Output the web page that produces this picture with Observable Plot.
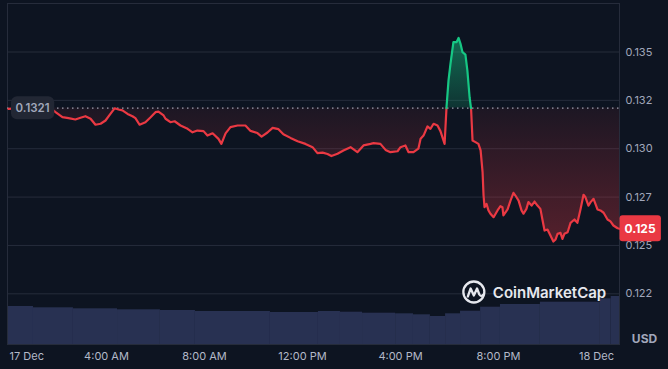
<!DOCTYPE html>
<html><head><meta charset="utf-8">
<script src="https://cdn.jsdelivr.net/npm/d3@7"></script>
<script src="https://cdn.jsdelivr.net/npm/@observablehq/plot@0.6"></script>
<style>
html,body{margin:0;padding:0;background:#0d1421;}
#chart{position:relative;width:668px;height:369px;background:#0d1421;overflow:hidden;}
#chart svg{position:absolute;left:0;top:0;}
</style></head><body><div id="chart"></div>
<script>
// hours since 17 Dec 00:00
const hours = [0.00,0.49,1.10,1.71,1.92,2.20,2.45,2.73,2.94,3.14,3.35,3.55,3.76,3.96,4.16,4.33,4.49,4.65,4.86,5.06,5.18,5.35,5.59,5.80,6.00,6.12,6.33,6.41,6.61,6.78,7.02,7.31,7.51,7.71,7.96,8.12,8.33,8.57,8.69,8.86,9.06,9.35,9.67,9.88,10.16,10.33,10.57,10.78,11.02,11.22,11.51,11.80,12.12,12.41,12.61,12.82,13.02,13.18,13.43,13.67,13.96,14.24,14.49,14.78,14.90,15.18,15.39,15.59,15.88,16.00,16.20,16.33,16.53,16.73,16.82,16.94,17.10,17.22,17.35,17.51,17.63,17.80,17.88,17.96,18.04,18.16,18.29,18.37,18.45,18.53,18.65,18.73,18.82,18.88,18.94,19.06,19.18,19.27,19.35,19.39,19.43,19.51,19.59,19.67,19.80,19.96,20.08,20.16,20.20,20.37,20.49,20.61,20.69,20.82,20.94,21.02,21.14,21.22,21.35,21.47,21.59,21.71,21.80,21.88,22.00,22.12,22.24,22.33,22.41,22.53,22.61,22.69,22.82,22.94,23.10,23.22,23.35,23.47,23.55,23.67,23.76,23.88,24.04,24.16,24.29,24.45,24.57,24.69,24.86,24.94];
const prices = [0.13206,0.13210,0.13210,0.13210,0.13189,0.13163,0.13158,0.13151,0.13160,0.13168,0.13155,0.13124,0.13129,0.13146,0.13180,0.13209,0.13203,0.13198,0.13180,0.13168,0.13158,0.13124,0.13137,0.13163,0.13189,0.13192,0.13172,0.13155,0.13137,0.13142,0.13120,0.13103,0.13085,0.13094,0.13091,0.13068,0.13080,0.13051,0.13025,0.13079,0.13112,0.13120,0.13120,0.13092,0.13081,0.13063,0.13084,0.13108,0.13101,0.13075,0.13056,0.13039,0.13025,0.13008,0.12977,0.12980,0.12973,0.12962,0.12974,0.12991,0.13008,0.12982,0.13017,0.13025,0.13029,0.13025,0.12994,0.12982,0.12987,0.13008,0.13017,0.12982,0.12982,0.13000,0.13051,0.13068,0.13115,0.13103,0.13129,0.13120,0.13091,0.13025,0.13218,0.13353,0.13439,0.13551,0.13551,0.13573,0.13542,0.13499,0.13487,0.13404,0.13266,0.13208,0.13042,0.13034,0.13025,0.12991,0.12879,0.12758,0.12698,0.12715,0.12681,0.12664,0.12646,0.12681,0.12703,0.12698,0.12655,0.12686,0.12732,0.12772,0.12758,0.12732,0.12681,0.12664,0.12689,0.12724,0.12706,0.12727,0.12706,0.12689,0.12629,0.12577,0.12582,0.12551,0.12520,0.12531,0.12560,0.12565,0.12534,0.12560,0.12568,0.12617,0.12634,0.12617,0.12689,0.12762,0.12749,0.12706,0.12724,0.12741,0.12686,0.12681,0.12669,0.12634,0.12624,0.12603,0.12589,0.12586];
const basePrice = 0.1321;
const baseLabel = "0.1321";
const lastLabel = "0.125";
const yTicks = [0.1225, 0.125, 0.1275, 0.13, 0.1325, 0.135];
const yLabels = ["0.122", "0.125", "0.127", "0.130", "0.132", "0.135"];
const xTicks = [0, 4, 8, 12, 16, 20, 24];
const xLabels = ["17 Dec", "4:00 AM", "8:00 AM", "12:00 PM", "4:00 PM", "8:00 PM", "18 Dec"];
// volume steps (hours) and relative 24h volume
const volStart = [-0.04,1.02,2.65,4.45,6.20,7.63,10.69,12.65,13.55,14.45,15.80,16.53,17.22,17.84,18.45,19.27,20.08,21.71,24.16,24.60];
const volEnd   = [1.02,2.65,4.45,6.20,7.63,10.69,12.65,13.55,14.45,15.80,16.53,17.22,17.84,18.45,19.27,20.08,21.71,24.16,24.60,24.94];
const volume   = [38,36.7,35.7,34.7,34,33,32,33,32.3,31.3,30.7,29.7,28,30.7,33.3,37.3,40,42.3,45.7,48];
const unitLabel = "USD";
const brand = "CoinMarketCap";

const RED = "#ea3943", GREEN = "#16c784", GRID = "#262c3b", TXT = "#a1a7bb";
const W = 668, H = 369, mL = 7, mR = 49, mT = 3, mB = 25;

// split line into segments above / below the base price
const pts = [];
let seg = 0;
for (let i = 0; i < hours.length; i++) {
  const up = prices[i] > basePrice;
  if (i > 0) {
    const pu = prices[i-1] > basePrice;
    if (pu !== up) {
      const f = (basePrice - prices[i-1]) / (prices[i] - prices[i-1]);
      const tc = hours[i-1] + f * (hours[i] - hours[i-1]);
      pts.push({t: tc, p: basePrice, seg, up: pu});
      seg++;
      pts.push({t: tc, p: basePrice, seg, up});
    }
  }
  pts.push({t: hours[i], p: prices[i], seg, up});
}
const upPts = pts.filter(d => d.up), dnPts = pts.filter(d => !d.up);

const common = {
  width: W, height: H, marginLeft: mL, marginRight: mR, marginTop: mT, marginBottom: mB,
  x: {domain: [0, 24], range: [8, 596], axis: null},
  style: {background: "transparent", fontFamily: "Inter, 'Noto Sans', sans-serif"}
};

const volPlot = Plot.plot({
  ...common,
  y: {domain: [0, 100], range: [H - mB, H - mB - 100], axis: null},
  marks: [
    Plot.rectY(volume.map((v, i) => ({x1: volStart[i], x2: volEnd[i], v})),
      {x1: "x1", x2: "x2", y: "v", fill: "#283152"})
  ]
});

const pricePlot = Plot.plot({
  ...common,
  y: {domain: [0.1225, 0.135], range: [293.3, 51.5], axis: null},
  marks: [
    Plot.gridY(yTicks, {stroke: GRID, strokeOpacity: 1}),
    Plot.frame({stroke: GRID}),
    Plot.areaY(dnPts, {x: "t", y1: d => basePrice, y2: "p", z: "seg", fill: "url(#gRed)"}),
    Plot.areaY(upPts, {x: "t", y1: d => basePrice, y2: "p", z: "seg", fill: "url(#gGreen)"}),
    Plot.ruleY([basePrice], {stroke: "#b4b9c7", strokeOpacity: 0.85, strokeWidth: 1.3, strokeDasharray: "1.5,3.5"}),
    Plot.line(dnPts, {x: "t", y: "p", z: "seg", stroke: RED, strokeWidth: 2.2}),
    Plot.line(upPts, {x: "t", y: "p", z: "seg", stroke: GREEN, strokeWidth: 2.2}),
    Plot.text(yTicks, {y: d => d, text: (d, i) => yLabels[i], frameAnchor: "right", dx: 6, textAnchor: "start", fill: TXT, fontSize: 11}),
    Plot.text(xTicks, {filter: (d, i) => i === 0, x: d => d, text: (d, i) => xLabels[i], frameAnchor: "bottom", dy: 15, dx: 1, textAnchor: "start", fill: "#b3b9c8", fontSize: 11}),
    Plot.text(xTicks, {filter: (d, i) => i > 0, x: d => d, text: (d, i) => xLabels[i], frameAnchor: "bottom", dy: 15, textAnchor: "middle", fill: "#b3b9c8", fontSize: 11}),
    Plot.text([unitLabel], {frameAnchor: "bottom-right", dx: 25, dy: -2, textAnchor: "middle", fill: TXT, fontSize: 12, fontWeight: "bold"}),
    Plot.text([brand], {frameAnchor: "bottom-right", dx: -70, dy: -47, textAnchor: "middle", fill: "#e6e8ee", fontSize: 15, fontWeight: 600, ariaLabel: d => "brand"}),
    Plot.text([basePrice], {y: d => d, text: d => baseLabel, frameAnchor: "left", dx: 8, textAnchor: "start", fill: TXT, fontSize: 11.5, fontWeight: 600, ariaLabel: d => "base-label"}),
    Plot.text([prices[prices.length - 1]], {y: d => d, text: d => lastLabel, frameAnchor: "right", dx: 5, textAnchor: "start", fill: "#ffffff", fontSize: 12, fontWeight: "bold", ariaLabel: d => "last-label"})
  ]
});

const root = document.getElementById("chart");
root.append(volPlot, pricePlot);

const NS = "http://www.w3.org/2000/svg";
const ys = pricePlot.scale("y");
const yb = ys.apply(basePrice);
const el = (tag, attrs) => { const e = document.createElementNS(NS, tag); for (const k in attrs) e.setAttribute(k, attrs[k]); return e; };
const defs = el("defs", {});
const gR = el("linearGradient", {id: "gRed", gradientUnits: "userSpaceOnUse", x1: 0, x2: 0, y1: yb, y2: ys.apply(0.125)});
gR.append(el("stop", {offset: 0, "stop-color": RED, "stop-opacity": 0.07}), el("stop", {offset: 1, "stop-color": RED, "stop-opacity": 0.33}));
const gG = el("linearGradient", {id: "gGreen", gradientUnits: "userSpaceOnUse", x1: 0, x2: 0, y1: ys.apply(0.1358), y2: yb});
gG.append(el("stop", {offset: 0, "stop-color": GREEN, "stop-opacity": 0.5}), el("stop", {offset: 1, "stop-color": GREEN, "stop-opacity": 0.18}));
defs.append(gR, gG);
pricePlot.insertBefore(defs, pricePlot.firstChild);

// find the text element of a labelled text mark
function findText(label) {
  let n = pricePlot.querySelector(`[aria-label="${label}"]`);
  if (n && n.tagName.toLowerCase() !== "text") n = n.querySelector("text");
  if (!n) {
    const key = {"base-label": baseLabel, "last-label": lastLabel, "brand": brand}[label];
    n = Array.from(pricePlot.querySelectorAll("text")).find(t => t.textContent === key);
  }
  return n;
}
function boxBehind(label, fill, padX, padY, rx) {
  const t = findText(label);
  if (!t) return;
  const b = t.getBBox();
  const r = el("rect", {x: b.x - padX, y: b.y - padY, width: b.width + 2 * padX, height: b.height + 2 * padY, rx, fill});
  if (t.getAttribute("transform")) r.setAttribute("transform", t.getAttribute("transform"));
  t.parentNode.insertBefore(r, t);
}
boxBehind("base-label", "#222734", 4.5, 4.5, 6);
boxBehind("last-label", RED, 5, 5.5, 3);

// brand logo next to watermark text
(function () {
  const t = findText("brand");
  if (!t) return;
  const b = t.getBBox();
  const wrap = el("g", {});
  if (t.getAttribute("transform")) wrap.setAttribute("transform", t.getAttribute("transform"));
  const lg = el("g", {transform: `translate(${b.x - 19},${b.y + b.height / 2})`});
  wrap.append(lg);
  t.parentNode.append(wrap);
  lg.append(el("circle", {r: 10.5, fill: "none", stroke: "#e6e8ee", "stroke-width": 2.3}));
  lg.append(el("path", {d: "M-6,4.5 L-3.2,-3.5 L0,3.5 L3.2,-3.5 L5.5,2.5 Q7,5 9,3", fill: "none", stroke: "#e6e8ee", "stroke-width": 2.3, "stroke-linejoin": "round", "stroke-linecap": "round"}));
})();
</script>
</body></html>
